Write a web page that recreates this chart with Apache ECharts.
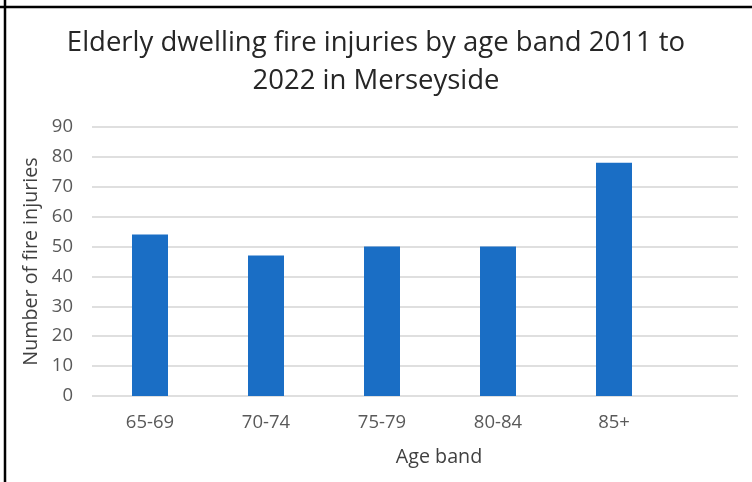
<!DOCTYPE html>
<html>
<head>
<meta charset="utf-8">
<script src="https://cdn.jsdelivr.net/npm/echarts@6/dist/echarts.min.js"></script>
<style>html,body{margin:0;padding:0;background:#fff;}#c{width:752px;height:482px;}</style>
</head>
<body>
<div id="c"></div>
<script>
const titleText = 'Elderly dwelling fire injuries by age band 2011 to\n2022 in Merseyside';
const categories = ['65-69', '70-74', '75-79', '80-84', '85+'];
const injuries = [54, 47, 50, 50, 78];
const yTicks = { min: 0, max: 90, interval: 10 };
const xAxisTitle = 'Age band';
const yAxisTitle = 'Number of fire injuries';

const FONT = '"Open Sans", sans-serif';
const chart = echarts.init(document.getElementById('c'), null, { renderer: 'canvas' });
chart.setOption({
  animation: false,
  backgroundColor: '#ffffff',
  title: {
    text: titleText,
    left: 'center',
    top: 19,
    textStyle: { fontFamily: FONT, fontSize: 27.5, fontWeight: 'normal', color: '#262626', lineHeight: 38 }
  },
  grid: [
    { left: 92, right: 14, top: 127, bottom: 86 },
    { left: 92, width: 580, top: 127, bottom: 86 }
  ],
  xAxis: [
    { gridIndex: 0, type: 'value', show: false, min: 0, max: 1 },
    {
      gridIndex: 1, type: 'category', data: categories,
      axisLine: { show: false }, axisTick: { show: false },
      axisLabel: { fontFamily: FONT, fontSize: 18.5, color: '#595959', margin: 17 }
    }
  ],
  yAxis: [
    {
      gridIndex: 0, type: 'value', min: yTicks.min, max: yTicks.max, interval: yTicks.interval,
      axisLine: { show: false }, axisTick: { show: false },
      axisLabel: { fontFamily: FONT, fontSize: 18.5, color: '#595959', margin: 19 },
      splitLine: { lineStyle: { color: '#d4d4d4', width: 1.5 } },
      name: yAxisTitle, nameLocation: 'middle', nameRotate: 90, nameGap: 49,
      nameTextStyle: { fontFamily: FONT, fontSize: 19.7, color: '#404040' }
    },
    { gridIndex: 1, type: 'value', min: yTicks.min, max: yTicks.max, interval: yTicks.interval, show: false }
  ],
  series: [{
    type: 'bar', xAxisIndex: 1, yAxisIndex: 1,
    data: injuries, barWidth: 36,
    itemStyle: { color: '#1a6ec5' }
  }],
  graphic: [
    { type: 'text', x: 439, y: 457, style: { text: xAxisTitle, font: '19.7px "Open Sans", sans-serif', fill: '#404040', textAlign: 'center', textVerticalAlign: 'middle' } },
    { type: 'line', shape: { x1: 0, y1: 7, x2: 752, y2: 7 }, style: { stroke: '#000', lineWidth: 2.5 } },
    { type: 'line', shape: { x1: 5, y1: 0, x2: 5, y2: 482 }, style: { stroke: '#000', lineWidth: 2.5 } }
  ]
});
</script>
</body>
</html>
